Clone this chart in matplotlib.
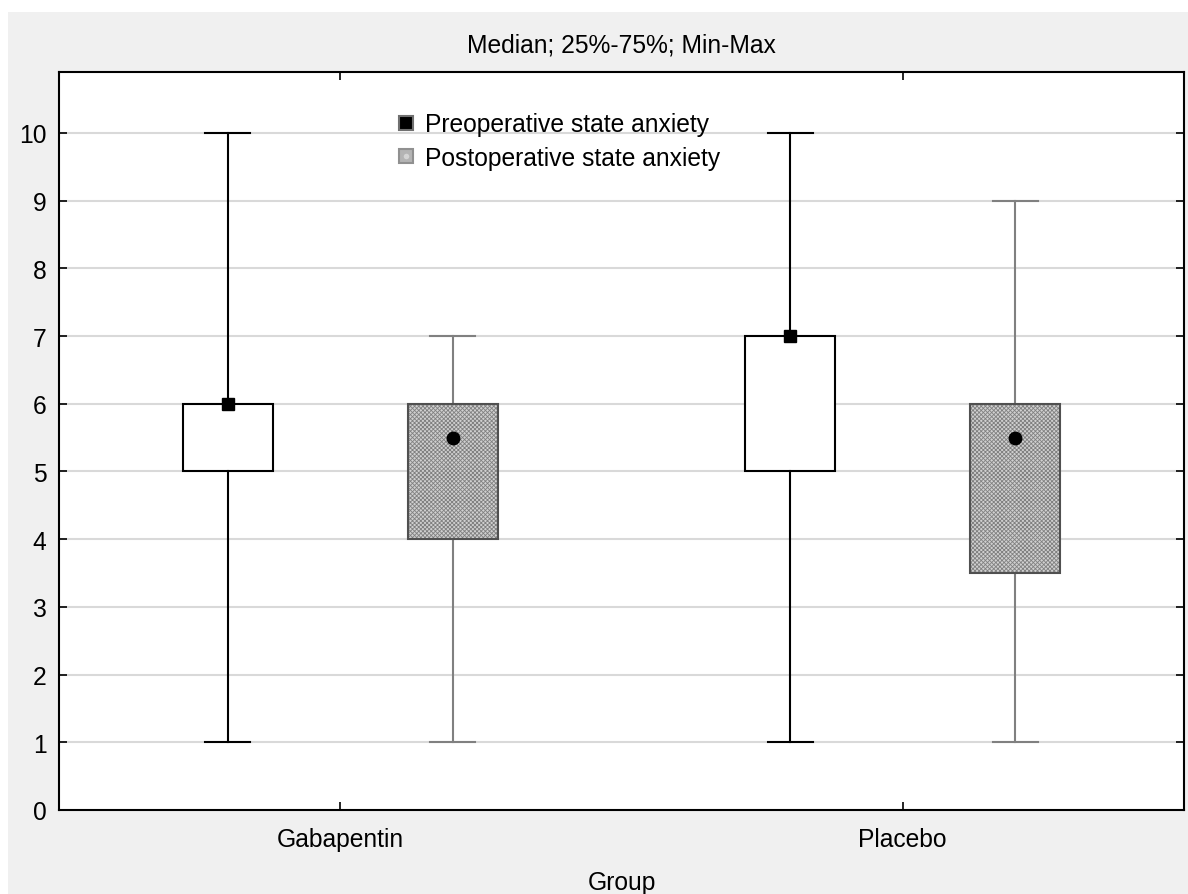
import matplotlib.pyplot as plt
from matplotlib.patches import Rectangle
from matplotlib.lines import Line2D

plt.rcParams['font.family'] = ['Liberation Sans', 'DejaVu Sans']
plt.rcParams['hatch.linewidth'] = 0.6

# ---------------------------------------------------------
# Data
# ---------------------------------------------------------
groups = ['Gabapentin', 'Placebo']
series = ['Preoperative state anxiety', 'Postoperative state anxiety']

pre_min = [1, 1]
pre_q1 = [5, 5]
pre_med = [6, 7]
pre_q3 = [6, 7]
pre_max = [10, 10]

post_min = [1, 1]
post_q1 = [4, 3.5]
post_med = [5.5, 5.5]
post_q3 = [6, 6]
post_max = [7, 9]

yticks = list(range(0, 11))

FS = 17.7


def make_stats(lo, q1, med, q3, hi):
    out = []
    for a, b, c, d, e in zip(lo, q1, med, q3, hi):
        out.append(dict(whislo=a, q1=b, med=c, q3=d, whishi=e, mean=c, fliers=[]))
    return out


fig = plt.figure(figsize=(11.88, 8.95), dpi=100)
fig.patch.set_facecolor('white')
fig.add_artist(Rectangle((8 / 1188, 0), 1 - 8 / 1188, 1 - 13 / 895,
                         transform=fig.transFigure, facecolor='#f0f0f0',
                         edgecolor='none', zorder=-10))

ax = fig.add_axes([59 / 1188, 1 - 811 / 895, (1184 - 59) / 1188, (811 - 73) / 895])
ax.set_facecolor('white')

for y in yticks[1:]:
    ax.axhline(y, color='#d9d9d9', linewidth=1.5, zorder=0)

pos = [0, 1]
off = 0.2
w = 0.16

# Preoperative boxes
ax.bxp(make_stats(pre_min, pre_q1, pre_med, pre_q3, pre_max),
       positions=[p - off for p in pos], widths=w, patch_artist=True,
       showmeans=True, showfliers=False,
       boxprops=dict(facecolor='white', edgecolor='black', linewidth=1.5),
       whiskerprops=dict(color='black', linewidth=1.5),
       capprops=dict(color='black', linewidth=1.5),
       medianprops=dict(linestyle='none'),
       meanprops=dict(marker='s', markersize=9, markerfacecolor='black',
                      markeredgecolor='black'),
       capwidths=0.08, manage_ticks=False, zorder=3)

# Postoperative boxes: hatched fill then outline
post = ax.bxp(make_stats(post_min, post_q1, post_med, post_q3, post_max),
              positions=[p + off for p in pos], widths=w, patch_artist=True,
              showmeans=True, showfliers=False,
              boxprops=dict(facecolor='#d0d0d0', edgecolor='#808080',
                            linewidth=0, hatch='xxxxxxxx'),
              whiskerprops=dict(color='#808080', linewidth=1.5),
              capprops=dict(color='#808080', linewidth=1.5),
              medianprops=dict(linestyle='none'),
              meanprops=dict(marker='o', markersize=9, markerfacecolor='black',
                             markeredgecolor='black'),
              capwidths=0.08, manage_ticks=False, zorder=3)
for i, p in enumerate(pos):
    ax.add_patch(Rectangle((p + off - w / 2, post_q1[i]), w, post_q3[i] - post_q1[i],
                           facecolor='none', edgecolor='#505050', linewidth=1.5,
                           zorder=4))
for m in post['means']:
    m.set_zorder(5)

ax.set_xlim(-0.5, 1.5)
ax.set_ylim(0, 10.9)
ax.set_xticks(pos)
ax.set_xticklabels(groups, fontsize=FS)
ax.set_yticks(yticks)
ax.set_yticklabels([str(v) for v in yticks], fontsize=FS)
ax.tick_params(axis='x', direction='in', length=6, width=1.2, top=True, pad=12)
ax.tick_params(axis='y', direction='in', length=6, width=1.2, right=True, left=True, pad=9)
for s in ax.spines.values():
    s.set_linewidth(1.5)

ax.set_xlabel('Group', fontsize=FS, labelpad=14)
ax.set_title('Median; 25%-75%; Min-Max', fontsize=FS, pad=15)

pre_handle = Line2D([], [], linestyle='none', marker='s', markersize=10,
                    markerfacecolor='black', markeredgecolor='#707070',
                    markeredgewidth=1.5)
post_handle = (
    Line2D([], [], linestyle='none', marker='s', markersize=10,
           markerfacecolor='#b4b4b4', markeredgecolor='#909090', markeredgewidth=1.5),
    Line2D([], [], linestyle='none', marker='o', markersize=4,
           markerfacecolor='#d4d4d4', markeredgecolor='none'),
)
ax.legend([pre_handle, post_handle], series, loc='upper left',
          bbox_to_anchor=(0.3, 0.9455), frameon=False, fontsize=FS,
          handlelength=0.8, handletextpad=0.37, labelspacing=0.4,
          borderaxespad=0, borderpad=0)

fig.savefig('out.png', dpi=100, facecolor=fig.get_facecolor())
